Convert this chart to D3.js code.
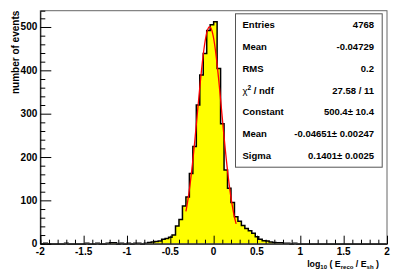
<!DOCTYPE html>
<html>
<head>
<meta charset="utf-8">
<script src="https://cdn.jsdelivr.net/npm/d3@7"></script>
<style>
  body { margin: 0; background: #fff; }
  svg text { font-family: "Liberation Sans", Arial, sans-serif; font-weight: bold; }
</style>
</head>
<body>
<svg id="chart" width="403" height="271"></svg>
<script>
// histogram: 100 bins from -2 to 2
var xMin = -2, xMax = 2, binWidth = 0.04;
var counts = [
  0, 1, 0, 0, 0, 0, 0, 1, 0, 0,
  0, 0, 0, 1, 0, 0, 1, 0, 0, 1,
  2, 2, 0, 1, 0, 1, 0, 1, 1, 0,
  1, 3, 4, 5, 6, 10, 12, 15, 20, 41,
  56, 87, 108, 162, 224, 320, 389, 439, 492, 505,
  512, 404, 277, 170, 128, 95, 62, 52, 42, 35,
  30, 24, 16, 10, 7, 6, 4, 3, 2, 2,
  1, 1, 0, 1, 0, 0, 0, 0, 0, 0,
  0, 0, 0, 0, 0, 0, 0, 0, 0, 0,
  0, 0, 0, 0, 0, 0, 0, 0, 0, 0
];

// gaussian fit: constant, mean, sigma and range
var fitPars = [500.4, -0.04651, 0.1401];
var fitRange = [-0.32, 0.26];

var yTicks = [0, 100, 200, 300, 400, 500];
var xTicks = [-2, -1.5, -1, -0.5, 0, 0.5, 1, 1.5, 2];

var statLabels = ["Entries", "Mean", "RMS", "chi2", "Constant", "Mean", "Sigma"];
var statValues = ["4768", "-0.04729", "0.2", "27.58 / 11", "500.4\u00b1 10.4", "-0.04651\u00b1 0.00247", "0.1401\u00b1 0.0025"];

var margin = {left: 40.3, right: 16, top: 10.7, bottom: 27.3};
var width = 403 - margin.left - margin.right,
    height = 271 - margin.top - margin.bottom;

var svg = d3.select("#chart").append("g")
    .attr("transform", "translate(" + margin.left + "," + margin.top + ")");

var xScale = d3.scaleLinear().domain([xMin, xMax]).range([0, width]);
var yScale = d3.scaleLinear().domain([0, 1.05 * d3.max(counts)]).range([height, 0]);

var bins = counts.map(function(c, i) {
    return {x0: xMin + i * binWidth, x1: xMin + (i + 1) * binWidth, n: c};
});

// step outline of the histogram
var pts = [[xMin, 0]];
bins.forEach(function(b) {
    pts.push([b.x0, b.n]);
    pts.push([b.x1, b.n]);
});
pts.push([xMax, 0]);

var line = d3.line()
    .x(function(d) { return xScale(d[0]); })
    .y(function(d) { return yScale(d[1]); });

svg.append("path")
    .attr("d", line(pts))
    .attr("fill", "#ffff00")
    .attr("stroke", "#000")
    .attr("stroke-width", 1.5);

// fitted gaussian
var fitPts = d3.range(fitRange[0], fitRange[1] + 0.0001, 0.005).map(function(v) {
    var z = (v - fitPars[1]) / fitPars[2];
    return [v, fitPars[0] * Math.exp(-0.5 * z * z)];
});
svg.append("path")
    .attr("d", line(fitPts))
    .attr("fill", "none")
    .attr("stroke", "#ff0000")
    .attr("stroke-width", 1.3);

// frame
svg.append("rect")
    .attr("x", 0).attr("y", 0)
    .attr("width", width).attr("height", height)
    .attr("fill", "none")
    .attr("stroke", "#666")
    .attr("stroke-width", 1);

// y axis: ticks drawn inside
var yAxis = d3.axisRight(yScale).tickValues(d3.range(0, 540, 20)).tickFormat("").tickSizeOuter(0)
    .tickSize(5);
var gy = svg.append("g").attr("class", "y axis").call(yAxis);
gy.selectAll(".tick line").attr("x2", function(d) { return d % 100 === 0 ? 11 : 5; });
gy.select(".domain").attr("stroke", "#000");

svg.selectAll(".ylab")
    .data(yTicks)
    .enter().append("text")
    .attr("x", -3)
    .attr("y", function(d) { return yScale(d) + 3.5; })
    .attr("text-anchor", "end")
    .attr("font-size", 10)
    .text(function(d) { return d; });

// x axis
var xAxis = d3.axisTop(xScale).tickValues(d3.range(-20, 21).map(function(i) { return i / 10; }))
    .tickFormat("").tickSizeOuter(0).tickSize(4);
var gx = svg.append("g")
    .attr("transform", "translate(0," + height + ")")
    .attr("class", "x axis").call(xAxis);
gx.selectAll(".tick line").attr("y2", function(d, i) { return i % 5 === 0 ? -8 : -4; });
gx.select(".domain").attr("stroke", "#000");

svg.selectAll(".xlab")
    .data(xTicks)
    .enter().append("text")
    .attr("x", function(d) { return xScale(d); })
    .attr("y", height + 11)
    .attr("text-anchor", "middle")
    .attr("font-size", 10)
    .text(function(d) { return d; });

// axis titles
var xt = svg.append("text")
    .attr("x", 379 - margin.left)
    .attr("y", 267.5 - margin.top)
    .attr("text-anchor", "end")
    .attr("font-size", 8.8);
xt.append("tspan").text("log");
xt.append("tspan").attr("font-size", 6).attr("dy", 2).text("10");
xt.append("tspan").attr("dy", -2).text(" ( E");
xt.append("tspan").attr("font-size", 6).attr("dy", 2).text("reco");
xt.append("tspan").attr("dy", -2).text(" / E");
xt.append("tspan").attr("font-size", 6).attr("dy", 2).text("sh");
xt.append("tspan").attr("dy", -2).text(" )");

svg.append("text")
    .attr("transform", "translate(" + (18.5 - margin.left) + ",0) rotate(-90)")
    .attr("text-anchor", "end")
    .attr("font-size", 10)
    .text("number of events");

// stats box
var box = d3.select("#chart").append("g");
var bx = 235, by = 13.3, bw = 146.7, bh = 153.4, rowH = bh / statLabels.length;
box.append("rect")
    .attr("x", bx + 0.5).attr("y", by + 0.5)
    .attr("width", bw).attr("height", bh)
    .attr("fill", "#fff")
    .attr("stroke", "#555");

box.selectAll(".slab")
    .data(statLabels)
    .enter().append("text")
    .attr("x", bx + 7.5)
    .attr("y", function(d, i) { return by + rowH * (i + 0.5) + 3.5; })
    .attr("font-size", 9.5)
    .each(function(d) {
        var t = d3.select(this);
        if (d === "chi2") {
            t.append("tspan").attr("font-weight", "normal").text("\u03c7");
            t.append("tspan").attr("font-size", 6.5).attr("dy", -4).text("2");
            t.append("tspan").attr("dy", 4).text(" / ndf");
        } else {
            t.text(d);
        }
    });

box.selectAll(".sval")
    .data(statValues)
    .enter().append("text")
    .attr("x", bx + 139)
    .attr("y", function(d, i) { return by + rowH * (i + 0.5) + 3.5; })
    .attr("text-anchor", "end")
    .attr("font-size", 9.5)
    .text(function(d) { return d; });
</script>
</body>
</html>
